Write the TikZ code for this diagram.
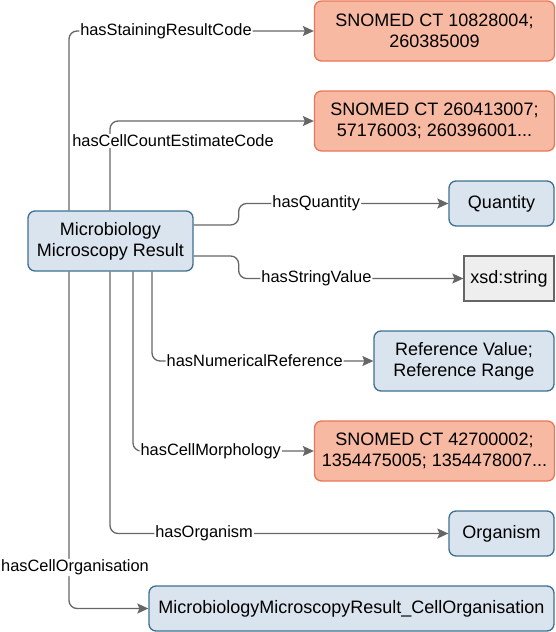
\documentclass[tikz,border=0pt]{standalone}
\usepackage{fontspec}
\setmainfont{Liberation Sans}
\usetikzlibrary{arrows.meta}

\definecolor{clsfill}{HTML}{DAE4EE}
\definecolor{clsline}{HTML}{3D7090}
\definecolor{codefill}{HTML}{F7B9A1}
\definecolor{codeline}{HTML}{EA7658}
\definecolor{dtfill}{HTML}{EEEEEE}
\definecolor{dtline}{HTML}{666666}
\definecolor{relgrey}{HTML}{666666}

\newcommand\boxfont{\fontsize{18}{21}\selectfont}
\newcommand\relfont{\fontsize{16.4}{19}\selectfont}

\tikzset{
  cls/.style={draw=clsline,fill=clsfill,line width=1.3pt,rounded corners=7pt,align=center,font=\boxfont,inner sep=0pt},
  code/.style={cls,draw=codeline,fill=codefill},
  dtype/.style={cls,draw=dtline,fill=dtfill,rounded corners=0pt},
  rel/.style={draw=relgrey,line width=1.3pt,rounded corners=8pt,-{Stealth[length=11pt,width=10pt,inset=2pt]}},
  lbl/.style={fill=white,inner sep=1pt,font=\relfont,text=black}
}

\begin{document}
\begin{tikzpicture}[x=1pt,y=-1pt]
\useasboundingbox (0,0) rectangle (555,632);

% classes and value sets
\node[cls,minimum width=165pt,minimum height=60pt] (mmr) at (110.5,241) {Microbiology\\Microscopy Result};
\node[code,minimum width=240pt,minimum height=60pt] (stain) at (434.5,31) {SNOMED CT 10828004;\\260385009};
\node[code,minimum width=240pt,minimum height=60pt] (count) at (434.5,121) {SNOMED CT 260413007;\\57176003; 260396001...};
\node[cls,minimum width=105pt,minimum height=45pt] (qty) at (501.5,203.5) {Quantity};
\node[dtype,minimum width=90pt,minimum height=45pt] (str) at (509,278.5) {xsd:string};
\node[cls,minimum width=180pt,minimum height=60pt] (ref) at (464,361) {Reference Value;\\Reference Range};
\node[code,minimum width=240pt,minimum height=60pt] (morph) at (434.5,451) {SNOMED CT 42700002;\\1354475005; 1354478007...};
\node[cls,minimum width=105pt,minimum height=45pt] (org) at (501.5,533.5) {Organism};
\node[cls,minimum width=405pt,minimum height=45pt] (cellorg) at (351.5,608.5) {MicrobiologyMicroscopyResult\_CellOrganisation};

% properties
\draw[rel] ([xshift=-41.5pt]mmr.north) |- node[lbl,pos=0.698] {hasStainingResultCode} (stain.west);
\draw[rel] ([xshift=-0.5pt]mmr.north) |- node[lbl,pos=0.389,xshift=63pt] {hasCellCountEstimateCode} (count.west);
\draw[rel] ([yshift=16pt]mmr.east) -- ++(45,0) |- node[lbl,pos=0.685] {hasQuantity} (qty.west);
\draw[rel] ([yshift=-15pt]mmr.east) -- ++(45,0) |- node[lbl,pos=0.673] {hasStringValue} (str.west);
\draw[rel] ([xshift=41.5pt]mmr.south) |- node[lbl,pos=0.732] {hasNumericalReference} (ref.west);
\draw[rel] ([xshift=22.5pt]mmr.south) |- node[lbl,pos=0.715] {hasCellMorphology} (morph.west);
\draw[rel] ([xshift=-0.5pt]mmr.south) |- node[lbl,pos=0.639] {hasOrganism} (org.west);
\draw[rel] ([xshift=-41.5pt]mmr.south) |- node[lbl,pos=0.439,xshift=6pt] {hasCellOrganisation} (cellorg.west);
\end{tikzpicture}
\end{document}
